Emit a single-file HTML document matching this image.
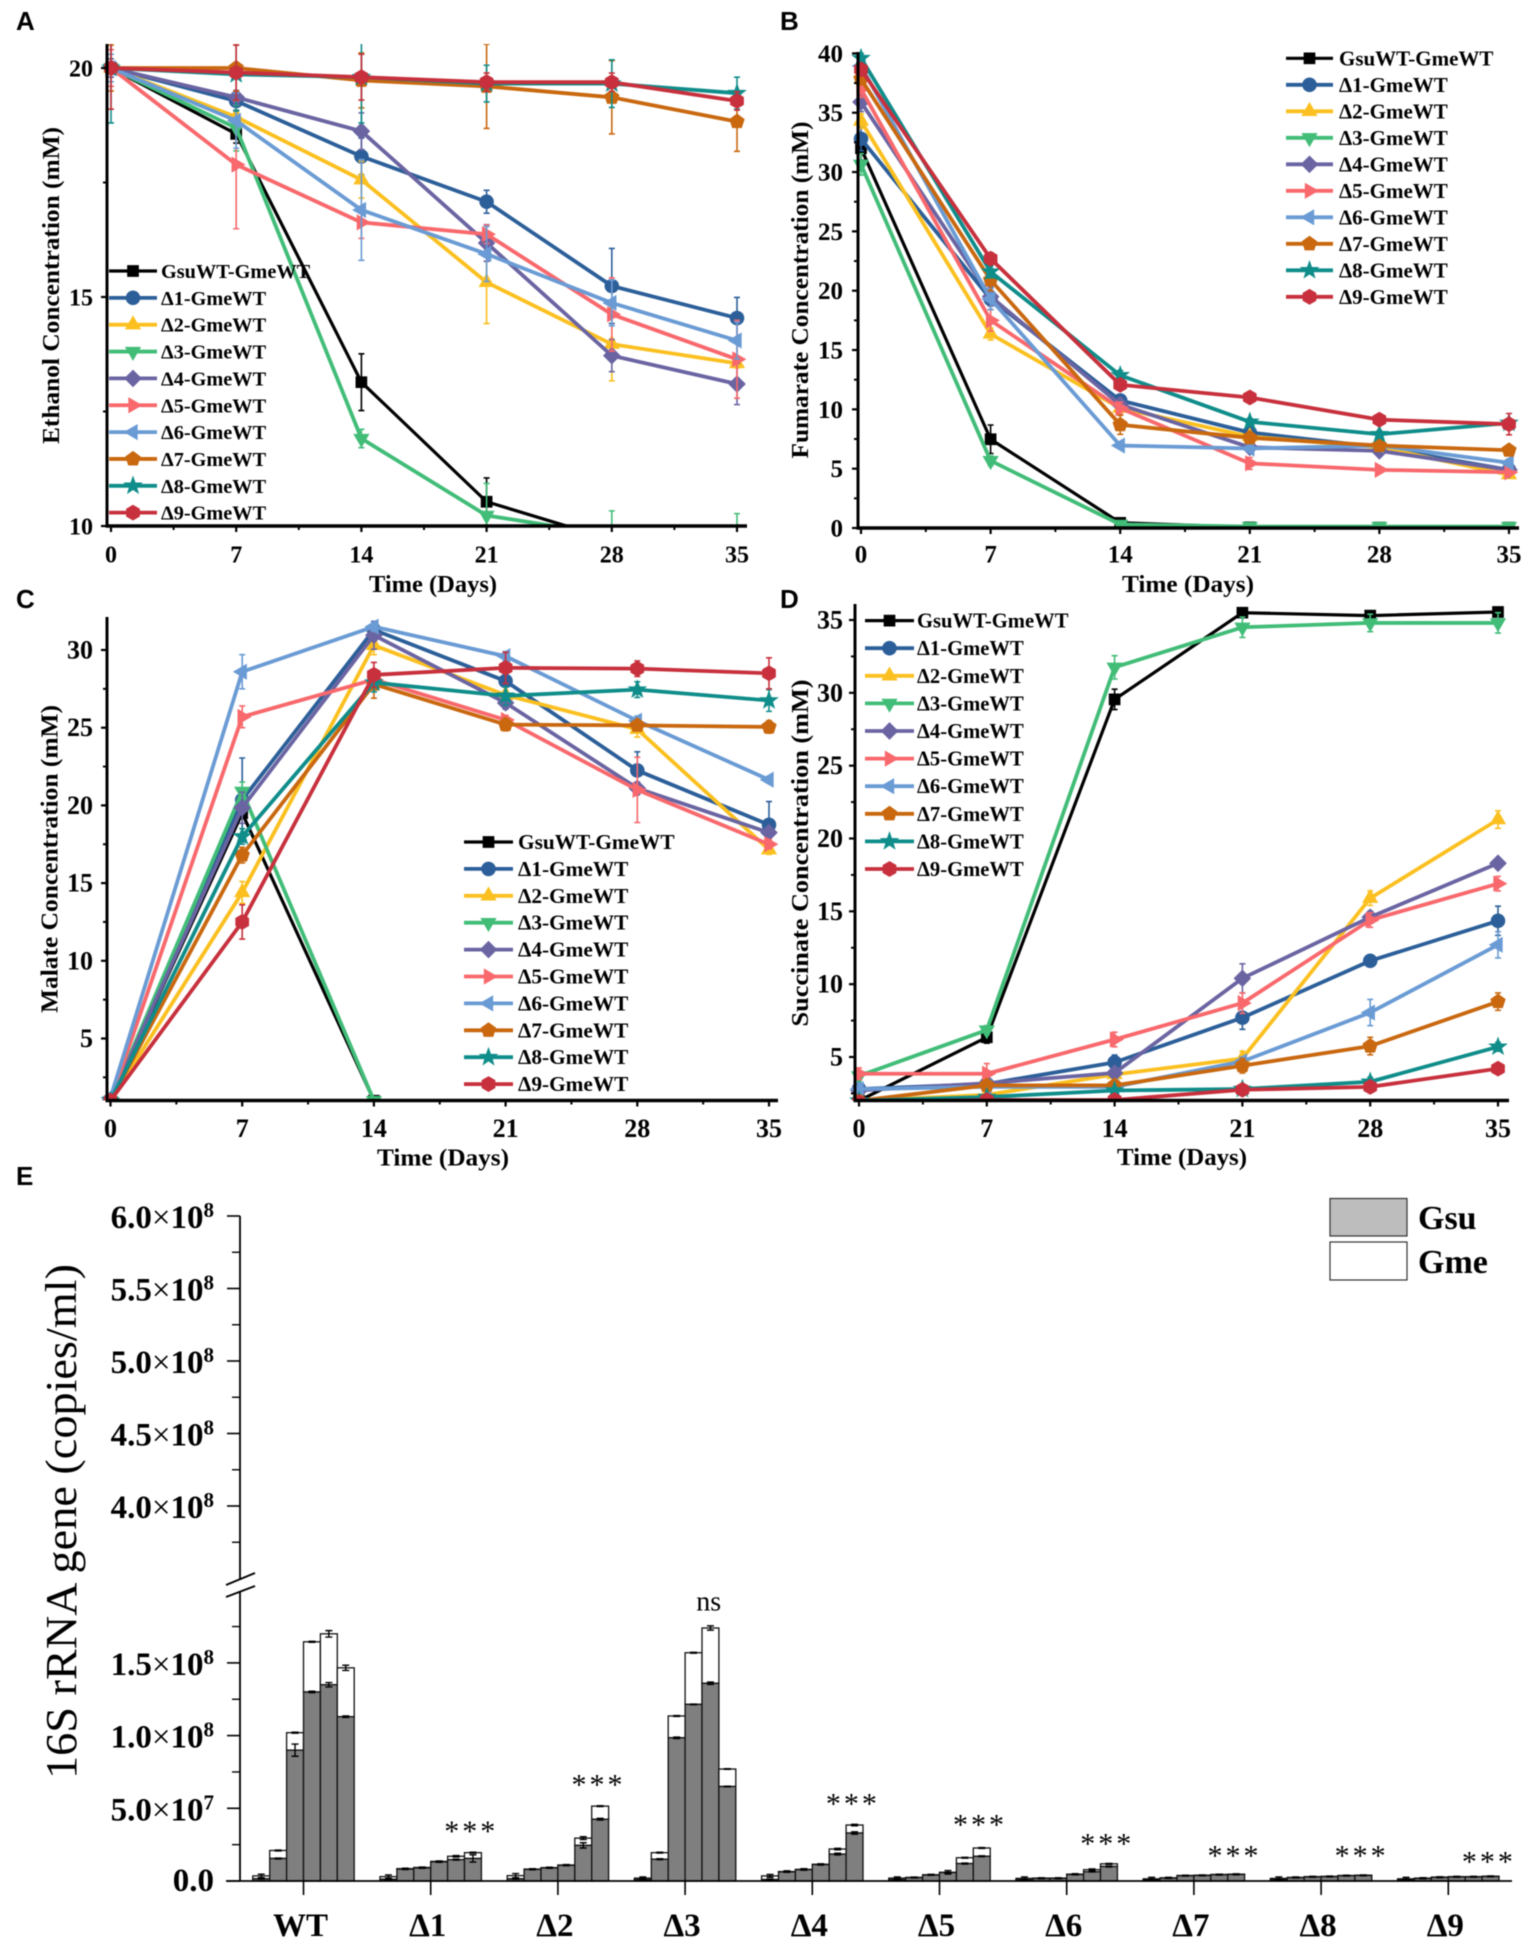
<!DOCTYPE html>
<html lang="en">
<head>
<meta charset="utf-8">
<title>Co-culture metabolite and 16S rRNA charts</title>
<style>
html,body{margin:0;padding:0;background:#fff;}
svg{display:block;filter:blur(0.5px);}
text{font-family:"Liberation Serif","Noto Serif CJK SC",serif;fill:#000;}
.bold{font-weight:bold;}
.letter{font-family:"Liberation Sans","Noto Sans CJK SC",sans-serif;font-weight:bold;font-size:26px;}
</style>
</head>
<body>
<svg id="figure" xmlns="http://www.w3.org/2000/svg" width="1535" height="1947" viewBox="0 0 1535 1947">
  <rect x="0" y="0" width="1535" height="1947" fill="#fff"/>

  <g id="panel-a">
    <text class="letter" x="16" y="30">A</text>
    <text class="bold" font-size="24" text-anchor="middle" textLength="317" lengthAdjust="spacingAndGlyphs" transform="translate(59,285.5) rotate(-90)">Ethanol Concentration (mM)</text>
    <text class="bold" font-size="24" text-anchor="middle" textLength="128" lengthAdjust="spacingAndGlyphs" x="433" y="592">Time (Days)</text>
  </g>
  <g id="panel-b">
    <text class="letter" x="780" y="30">B</text>
    <text class="bold" font-size="24" text-anchor="middle" textLength="337" lengthAdjust="spacingAndGlyphs" transform="translate(808,290) rotate(-90)">Fumarate Concentration (mM)</text>
    <text class="bold" font-size="24" text-anchor="middle" textLength="132" lengthAdjust="spacingAndGlyphs" x="1188" y="592">Time (Days)</text>
  </g>
  <g id="panel-c">
    <text class="letter" x="16" y="608">C</text>
    <text class="bold" font-size="24" text-anchor="middle" textLength="308" lengthAdjust="spacingAndGlyphs" transform="translate(57.5,859) rotate(-90)">Malate Concentration (mM)</text>
    <text class="bold" font-size="24" text-anchor="middle" textLength="132" lengthAdjust="spacingAndGlyphs" x="443" y="1165.5">Time (Days)</text>
  </g>
  <g id="panel-d">
    <text class="letter" x="780" y="608">D</text>
    <text class="bold" font-size="24" text-anchor="middle" textLength="347" lengthAdjust="spacingAndGlyphs" transform="translate(808,853) rotate(-90)">Succinate Concentration (mM)</text>
    <text class="bold" font-size="24" text-anchor="middle" textLength="130" lengthAdjust="spacingAndGlyphs" x="1182" y="1165">Time (Days)</text>
  </g>
  <g id="panel-e">
    <text class="letter" x="16" y="1185">E</text>
    <text font-size="44" text-anchor="middle" textLength="515" lengthAdjust="spacingAndGlyphs" transform="translate(76,1521.5) rotate(-90)">16S rRNA gene (copies/ml)</text>
    <rect x="1330" y="1198.5" width="77" height="37.5" fill="#bdbdbd" stroke="#333" stroke-width="1.2"/>
    <rect x="1330" y="1242" width="77" height="38" fill="#fff" stroke="#333" stroke-width="1.2"/>
    <text class="bold" font-size="34" x="1418" y="1229">Gsu</text>
    <text class="bold" font-size="34" x="1418" y="1273">Gme</text>
  </g>
</svg>

<script>
/* ---------- shared chart data ---------- */
const days = [0, 7, 14, 21, 28, 35];
const seriesNames = ['GsuWT-GmeWT', 'Δ1-GmeWT', 'Δ2-GmeWT', 'Δ3-GmeWT', 'Δ4-GmeWT', 'Δ5-GmeWT', 'Δ6-GmeWT', 'Δ7-GmeWT', 'Δ8-GmeWT', 'Δ9-GmeWT'];
const seriesColors = ['#000000', '#2c5f99', '#fbc020', '#41bd78', '#6a64a2', '#f8686c', '#6a9bd4', '#c9680f', '#0f8d8a', '#c7303c'];
const seriesShapes = ['square', 'circle', 'up', 'down', 'diamond', 'right', 'left', 'pentagon', 'star', 'hexagon'];

/* Panel A: ethanol (mM) */
const ethanolValues = [
  [20, 18.56, 13.14, 10.53, 9.7, 9.7],
  [20, 19.28, 18.07, 17.08, 15.24, 14.54],
  [20, 18.93, 17.56, 15.32, 13.97, 13.55],
  [20, 18.69, 11.91, 10.23, 9.8, 9.8],
  [20, 19.36, 18.62, 16.18, 13.72, 13.1],
  [20, 17.89, 16.63, 16.37, 14.62, 13.64],
  [20, 18.85, 16.9, 15.94, 14.87, 14.05],
  [20, 20, 19.73, 19.6, 19.36, 18.83],
  [20, 19.86, 19.8, 19.66, 19.66, 19.45],
  [20, 19.9, 19.8, 19.69, 19.69, 19.28]
];
const ethanolErrors = [
  [0.3, 0.2, 0.62, 0.52, 0, 0],
  [0.2, 0.2, 0.4, 0.25, 0.82, 0.45],
  [0.2, 0.1, 0.4, 0.9, 0.8, 0.1],
  [0.3, 0.5, 0.2, 0.7, 0.53, 0.47],
  [0.2, 0.15, 0.4, 0.4, 0.35, 0.45],
  [0.4, 1.4, 0.35, 0.2, 0.8, 0.85],
  [0.3, 0.6, 1.1, 0.6, 0.5, 0.4],
  [0.5, 0.5, 0.6, 0.92, 0.8, 0.65],
  [1.2, 0.8, 1.0, 0.4, 0.52, 0.35],
  [0.9, 0.6, 0.5, 0.2, 0.2, 0.2]
];
const ethanolTicks = [10, 15, 20];
const ethanolMinorTicks = [12.5, 17.5];

/* Panel B: fumarate (mM) */
const fumarateValues = [
  [32, 7.48, 0.44, 0.06, 0.03, 0.03],
  [32.8, 19.3, 10.75, 8.05, 6.8, 4.9],
  [34.3, 16.35, 10.1, 7.7, 6.8, 4.5],
  [30.65, 5.67, 0.3, 0.12, 0.12, 0.12],
  [35.9, 19.5, 10.4, 6.8, 6.5, 4.9],
  [37, 17.5, 10.1, 5.45, 4.9, 4.7],
  [38.95, 19.3, 6.95, 6.7, 6.95, 5.5],
  [37.85, 20.9, 8.7, 7.6, 6.95, 6.55],
  [39.6, 21.6, 12.87, 8.95, 7.9, 8.85],
  [38.65, 22.7, 12.07, 11, 9.13, 8.75]
];
const fumarateErrors = [
  [1, 1.2, 0.1, 0, 0, 0],
  [1, 0.9, 0.5, 0.2, 0.2, 0.2],
  [0.6, 0.5, 0.5, 0.2, 0.2, 0.3],
  [0.9, 0.4, 0.1, 0, 0, 0],
  [0.8, 0.8, 0.5, 0.3, 0.3, 0.3],
  [0.7, 0.9, 0.5, 0.5, 0.2, 0.3],
  [0.5, 0.9, 0.2, 0.2, 0.3, 0.3],
  [0.5, 0.9, 0.8, 0.3, 0.2, 0.2],
  [0.4, 0.5, 0.4, 0.3, 0.3, 0.2],
  [0.5, 0.5, 0.4, 0.3, 0.3, 0.9]
];
const fumarateTicks = [0, 5, 10, 15, 20, 25, 30, 35, 40];
const fumarateMinorTicks = [2.5, 7.5, 12.5, 17.5, 22.5, 27.5, 32.5, 37.5];

/* Panel C: malate (mM) */
const malateValues = [
  [1, 19.5, 1, 0.5, 0.5, 0.5],
  [1, 20.35, 31.3, 28, 22.25, 18.75],
  [1, 14.4, 30.3, 27.1, 24.9, 17.15],
  [1, 20.9, 1, 0.5, 0.5, 0.5],
  [1, 19.85, 30.95, 26.6, 21.1, 18.25],
  [1, 25.7, 28.1, 25.5, 21, 17.5],
  [1.2, 28.6, 31.5, 29.6, 25.45, 21.65],
  [1, 16.8, 27.8, 25.2, 25.15, 25.05],
  [1, 18, 27.9, 27.05, 27.45, 26.75],
  [1, 12.5, 28.4, 28.85, 28.8, 28.5]
];
const malateErrors = [
  [0.2, 0.2, 0, 0, 0, 0],
  [0.2, 2.7, 0.3, 0.3, 1.2, 1.5],
  [0.2, 0.7, 0.6, 0.3, 0.5, 0.3],
  [0.2, 0.6, 0, 0, 0, 0],
  [0.2, 1.0, 0.9, 0.4, 0.4, 0.3],
  [0.2, 0.7, 0.3, 0.3, 2.1, 0.3],
  [0.3, 1.1, 0.3, 0.3, 0.3, 0.2],
  [0.2, 0.5, 0.9, 0.4, 0.3, 0.4],
  [0.2, 0.5, 0.6, 0.6, 0.5, 0.7],
  [0.2, 1.1, 0.8, 1.0, 0.5, 1.0]
];
const malateTicks = [5, 10, 15, 20, 25, 30];
const malateMinorTicks = [2.5, 7.5, 12.5, 17.5, 22.5, 27.5];

/* Panel D: succinate (mM) */
const succinateValues = [
  [2, 6.35, 29.55, 35.5, 35.3, 35.55],
  [2.8, 3.15, 4.63, 7.7, 11.6, 14.35],
  [2, 2.4, 3.8, 4.9, 15.9, 21.3],
  [3.7, 6.85, 31.75, 34.5, 34.8, 34.8],
  [2.7, 3.2, 3.9, 10.4, 14.6, 18.3],
  [3.85, 3.85, 6.2, 8.7, 14.4, 16.9],
  [2.8, 2.95, 2.95, 4.7, 8.05, 12.7],
  [2, 3.05, 3.05, 4.4, 5.75, 8.8],
  [2, 2.25, 2.7, 2.8, 3.3, 5.7],
  [1.9, 2.05, 2.05, 2.75, 2.95, 4.2]
];
const succinateErrors = [
  [0.2, 0.4, 0.7, 0.3, 0.2, 0.3],
  [0.3, 0.3, 0.5, 0.8, 0.3, 1.0],
  [0.2, 0.2, 0.4, 0.5, 0.5, 0.6],
  [0.3, 0.3, 0.8, 0.7, 0.6, 0.7],
  [0.3, 0.3, 0.3, 1.0, 0.4, 0.3],
  [0.4, 0.7, 0.5, 0.7, 0.5, 0.5],
  [0.4, 0.3, 0.3, 0.3, 0.9, 0.9],
  [0.2, 0.3, 0.3, 0.5, 0.6, 0.6],
  [0.2, 0.2, 0.2, 0.2, 0.3, 0.3],
  [0.2, 0.2, 0.2, 0.2, 0.2, 0.2]
];
const succinateTicks = [5, 10, 15, 20, 25, 30, 35];
const succinateMinorTicks = [2.5, 7.5, 12.5, 17.5, 22.5, 27.5, 32.5];

/* Panel E: stacked 16S rRNA bars, all values in units of 1e7 copies/ml */
const strainLabels = ['WT', 'Δ1', 'Δ2', 'Δ3', 'Δ4', 'Δ5', 'Δ6', 'Δ7', 'Δ8', 'Δ9'];
const gsuCounts = [
  [0.15, 1.55, 9.0, 13.0, 13.5, 11.3],
  [0.12, 0.82, 0.9, 1.32, 1.47, 1.55],
  [0.15, 0.8, 0.9, 1.08, 2.45, 4.25],
  [0.1, 1.5, 9.85, 12.15, 13.6, 6.5],
  [0.1, 0.63, 0.78, 1.13, 1.85, 3.3],
  [0.1, 0.23, 0.41, 0.58, 1.2, 1.7],
  [0.08, 0.18, 0.18, 0.45, 0.64, 1.0],
  [0.08, 0.2, 0.36, 0.38, 0.43, 0.45],
  [0.1, 0.23, 0.28, 0.3, 0.36, 0.38],
  [0.08, 0.18, 0.25, 0.28, 0.28, 0.31]
];
const gmeCounts = [
  [0.2, 0.55, 1.2, 3.45, 3.5, 3.36],
  [0.18, 0.03, 0.03, 0.03, 0.23, 0.4],
  [0.22, 0.02, 0.02, 0.02, 0.5, 0.9],
  [0.1, 0.45, 1.5, 3.55, 3.8, 1.2],
  [0.25, 0.02, 0.02, 0.02, 0.35, 0.55],
  [0.1, 0.02, 0.02, 0.02, 0.4, 0.57],
  [0.1, 0.02, 0.02, 0.02, 0.14, 0.18],
  [0.07, 0.02, 0.02, 0.02, 0.02, 0.02],
  [0.08, 0.02, 0.02, 0.02, 0.02, 0.02],
  [0.07, 0.02, 0.02, 0.02, 0.02, 0.02]
];
const gsuErrors = [
  [0.02, 0.03, 0.42, 0.05, 0.15, 0.05],
  [0.02, 0.03, 0.03, 0.03, 0.03, 0.25],
  [0.02, 0.03, 0.03, 0.03, 0.18, 0.06],
  [0.02, 0.03, 0.05, 0.02, 0.08, 0.02],
  [0.02, 0.03, 0.03, 0.03, 0.06, 0.08],
  [0.02, 0.02, 0.02, 0.02, 0.03, 0.03],
  [0.02, 0.02, 0.02, 0.02, 0.02, 0.03],
  [0.02, 0.02, 0.02, 0.02, 0.02, 0.02],
  [0.02, 0.02, 0.02, 0.02, 0.02, 0.02],
  [0.02, 0.02, 0.02, 0.02, 0.02, 0.02]
];
const totalErrors = [
  [0.12, 0.03, 0.03, 0.03, 0.22, 0.18],
  [0.12, 0.03, 0.03, 0.03, 0.05, 0.03],
  [0.14, 0.03, 0.03, 0.03, 0.1, 0.03],
  [0.08, 0.03, 0.03, 0.03, 0.15, 0.02],
  [0.1, 0.05, 0.05, 0.03, 0.05, 0.05],
  [0.08, 0.02, 0.03, 0.12, 0.03, 0.03],
  [0.1, 0.02, 0.02, 0.03, 0.05, 0.03],
  [0.1, 0.03, 0.02, 0.02, 0.02, 0.02],
  [0.1, 0.03, 0.02, 0.02, 0.02, 0.02],
  [0.1, 0.03, 0.02, 0.02, 0.02, 0.02]
];
const annotationTexts = ['', '***', '***', 'ns', '***', '***', '***', '***', '***', '***'];
const annotationHeights = [0, 2.75, 5.95, 18.6, 4.65, 3.2, 1.9, 1.05, 1.05, 0.65];
const upperTickMantissas = ['4.0', '4.5', '5.0', '5.5', '6.0'];
const upperTickValues = [40, 45, 50, 55, 60];
const upperMinorTicks = [37.5, 42.5, 47.5, 52.5, 57.5];
const lowerTickMantissas = ['5.0', '1.0', '1.5'];
const lowerTickExponents = ['7', '8', '8'];
const lowerTickValues = [5, 10, 15];
const lowerMinorTicks = [2.5, 7.5, 12.5, 17.5];

/* ---------- drawing helpers ---------- */
const SVGNS = 'http://www.w3.org/2000/svg';
function make(tag, attrs, parent) {
  const node = document.createElementNS(SVGNS, tag);
  for (const k in attrs) node.setAttribute(k, attrs[k]);
  parent.appendChild(node);
  return node;
}
function markerPoints(shape, cx, cy, r) {
  const poly = (n, rot, rad) => {
    const pts = [];
    for (let i = 0; i < n; i++) {
      const a = rot + i * 2 * Math.PI / n;
      pts.push((cx + rad * Math.cos(a)).toFixed(2) + ',' + (cy + rad * Math.sin(a)).toFixed(2));
    }
    return pts.join(' ');
  };
  if (shape === 'square') return poly(4, Math.PI / 4, r * 1.12);
  if (shape === 'circle') return poly(24, 0, r);
  if (shape === 'up') return poly(3, -Math.PI / 2, r * 1.25);
  if (shape === 'down') return poly(3, Math.PI / 2, r * 1.25);
  if (shape === 'right') return poly(3, 0, r * 1.25);
  if (shape === 'left') return poly(3, Math.PI, r * 1.25);
  if (shape === 'diamond') return poly(4, 0, r * 1.2);
  if (shape === 'pentagon') return poly(5, -Math.PI / 2, r * 1.1);
  if (shape === 'hexagon') return poly(6, -Math.PI / 2, r * 1.08);
  const pts = [];
  for (let i = 0; i < 10; i++) {
    const a = -Math.PI / 2 + i * Math.PI / 5;
    const rad = i % 2 === 0 ? r * 1.35 : r * 0.55;
    pts.push((cx + rad * Math.cos(a)).toFixed(2) + ',' + (cy + rad * Math.sin(a)).toFixed(2));
  }
  return pts.join(' ');
}

function drawLinePanel(layout, values, errors, majorTicks, minorTicks, clipId) {
  const g = document.getElementById(layout.groupId);
  const xScale = d => layout.xAtZero + (d / 35) * (layout.xAtEnd - layout.xAtZero);
  const yScale = v => layout.yRefA + (v - layout.vRefA) / (layout.vRefB - layout.vRefA) * (layout.yRefB - layout.yRefA);
  const vMin = (layout.yBottom - layout.yRefA) / (layout.yRefB - layout.yRefA) * (layout.vRefB - layout.vRefA) + layout.vRefA;

  const clip = make('clipPath', { id: clipId }, g);
  make('rect', { x: layout.axisX - 20, y: layout.yTop, width: layout.xEnd - layout.axisX + 40, height: layout.yBottom - layout.yTop }, clip);
  const markerClip = make('clipPath', { id: clipId + '-markers' }, g);
  make('rect', { x: layout.axisX - 30, y: layout.yTop - 30, width: layout.xEnd - layout.axisX + 60, height: layout.yBottom - layout.yTop + 30 }, markerClip);

  values.forEach((series, s) => {
    const color = seriesColors[s];
    const seriesGroup = make('g', {}, g);
    
    

    series.forEach((v, i) => {
      const err = errors[s][i];
      if (err <= 0) return;
      const x = xScale(days[i]);
      const top = yScale(v + err);
      const bot = yScale(v - err);
      const bar = make('path', {
        d: 'M' + x + ' ' + top + 'V' + bot + 'M' + (x - 3) + ' ' + top + 'H' + (x + 3) + 'M' + (x - 3) + ' ' + bot + 'H' + (x + 3),
        stroke: color, 'stroke-width': 1.6, fill: 'none', 'clip-path': 'url(#' + clipId + ')'
      }, seriesGroup);
      
      
    });

    const line = make('polyline', {
      points: series.map((v, i) => xScale(days[i]) + ',' + yScale(v)).join(' '),
      fill: 'none', stroke: color, 'stroke-width': s === 0 ? 3.2 : 3.8,
      'stroke-linejoin': 'round', 'clip-path': 'url(#' + clipId + ')'
    }, seriesGroup);
    
    

    series.forEach((v, i) => {
      if (v < vMin - 0.15) return;
      const marker = make('polygon', {
        points: markerPoints(seriesShapes[s], xScale(days[i]), yScale(v), 7),
        fill: color, stroke: color, 'stroke-width': 0.6, 'clip-path': 'url(#' + clipId + '-markers)'
      }, seriesGroup);
      
      
    });
  });

  const xAxis = make('line', { x1: layout.axisX - 1.5, x2: layout.xEnd, y1: layout.yBottom, y2: layout.yBottom, stroke: '#000', 'stroke-width': 3.6 }, g);
  
  
  const yAxis = make('line', { x1: layout.axisX, x2: layout.axisX, y1: layout.yTop, y2: layout.yBottom, stroke: '#000', 'stroke-width': 3 }, g);
  
  

  days.forEach((d, i) => {
    const x = xScale(d);
    const tick = make('line', { x1: x, x2: x, y1: layout.yBottom, y2: layout.yBottom + 6, stroke: '#000', 'stroke-width': 2.2 }, g);
    
    
    const label = make('text', { x: x, y: layout.xLabelBaseline, 'text-anchor': 'middle', 'font-size': layout.fontSize, class: 'bold' }, g);
    label.textContent = String(d);
    
    
    if (i < days.length - 1) {
      const mx = xScale(d + 3.5);
      const minor = make('line', { x1: mx, x2: mx, y1: layout.yBottom, y2: layout.yBottom + 4, stroke: '#000', 'stroke-width': 2 }, g);
      
      
    }
  });

  majorTicks.forEach(v => {
    const y = yScale(v);
    const tick = make('line', { x1: layout.axisX - 6, x2: layout.axisX, y1: y, y2: y, stroke: '#000', 'stroke-width': 2.2 }, g);
    
    
    const label = make('text', { x: layout.yLabelRight, y: y + 8.5, 'text-anchor': 'end', 'font-size': layout.fontSize, class: 'bold' }, g);
    label.textContent = String(v);
    
    
  });
  minorTicks.forEach(v => {
    if (v < vMin) return;
    const y = yScale(v);
    const tick = make('line', { x1: layout.axisX - 4, x2: layout.axisX, y1: y, y2: y, stroke: '#000', 'stroke-width': 2 }, g);
    
    
  });

  const legend = make('g', {}, g);
  
  
  seriesNames.forEach((name, s) => {
    const y = layout.legendY + s * layout.legendStep;
    const sample = make('line', { x1: layout.legendX0, x2: layout.legendX1, y1: y, y2: y, stroke: seriesColors[s], 'stroke-width': s === 0 ? 3.2 : 3.8 }, legend);
    
    
    const symbol = make('polygon', {
      points: markerPoints(seriesShapes[s], (layout.legendX0 + layout.legendX1) / 2, y, 7),
      fill: seriesColors[s], stroke: seriesColors[s], 'stroke-width': 0.6
    }, legend);
    
    
    const text = make('text', { x: layout.legendTextX, y: y + 7, 'font-size': layout.legendFont, class: 'bold' }, legend);
    text.textContent = name;
    
    
  });
}

/* ---------- line panels ---------- */
drawLinePanel({
  groupId: 'panel-a', axisX: 107, xAtZero: 111, xAtEnd: 737, xEnd: 747, yTop: 44, yBottom: 526,
  vRefA: 20, yRefA: 68, vRefB: 10, yRefB: 526, fontSize: 24, xLabelBaseline: 562.5, yLabelRight: 93,
  legendX0: 109, legendX1: 157, legendTextX: 161, legendY: 271, legendStep: 26.85, legendFont: 20.3
}, ethanolValues, ethanolErrors, ethanolTicks, ethanolMinorTicks, 'clip-a');

drawLinePanel({
  groupId: 'panel-b', axisX: 858, xAtZero: 861, xAtEnd: 1509, xEnd: 1519, yTop: 52, yBottom: 528,
  vRefA: 40, yRefA: 53.4, vRefB: 0, yRefB: 528, fontSize: 25, xLabelBaseline: 562.5, yLabelRight: 843,
  legendX0: 1286, legendX1: 1333, legendTextX: 1339, legendY: 58.3, legendStep: 26.5, legendFont: 21
}, fumarateValues, fumarateErrors, fumarateTicks, fumarateMinorTicks, 'clip-b');

drawLinePanel({
  groupId: 'panel-c', axisX: 107, xAtZero: 110.5, xAtEnd: 769, xEnd: 778, yTop: 617, yBottom: 1100.5,
  vRefA: 30, yRefA: 650, vRefB: 5, yRefB: 1038.5, fontSize: 26, xLabelBaseline: 1137, yLabelRight: 93,
  legendX0: 464, legendX1: 513, legendTextX: 518, legendY: 842, legendStep: 26.9, legendFont: 21.3
}, malateValues, malateErrors, malateTicks, malateMinorTicks, 'clip-c');

drawLinePanel({
  groupId: 'panel-d', axisX: 855, xAtZero: 859, xAtEnd: 1498, xEnd: 1509, yTop: 604, yBottom: 1100.5,
  vRefA: 35, yRefA: 620, vRefB: 5, yRefB: 1057, fontSize: 26, xLabelBaseline: 1137, yLabelRight: 843,
  legendX0: 865, legendX1: 914, legendTextX: 917, legendY: 620.6, legendStep: 27.6, legendFont: 20.6
}, succinateValues, succinateErrors, succinateTicks, succinateMinorTicks, 'clip-d');

/* ---------- bar panel ---------- */
(function drawBars() {
  const g = document.getElementById('panel-e');
  const axisX = 240;
  const baseY = 1881;
  const groupStart = 303.5;
  const groupStep = 127.2;
  const barW = 16.9;
  const yLower = v => baseY - v * 14.54;
  const yUpper = v => 1216 + (60 - v) * 14.5;
  const groupCenter = i => groupStart + i * groupStep;

  strainLabels.forEach((label, i) => {
    const cx = groupCenter(i);
    gsuCounts[i].forEach((gsu, b) => {
      const x = cx - 3 * barW + b * barW;
      const gme = gmeCounts[i][b];
      const total = gsu + gme;
      const topBar = make('rect', { x: x, y: yLower(total), width: barW, height: yLower(gsu) - yLower(total), fill: '#fff', stroke: '#111', 'stroke-width': 1.3 }, g);
      
      
      const lowBar = make('rect', { x: x, y: yLower(gsu), width: barW, height: baseY - yLower(gsu), fill: '#7f7f7f', stroke: '#111', 'stroke-width': 1.3 }, g);
      
      

      const mid = x + barW / 2;
      [[gsu, gsuErrors[i][b]], [total, totalErrors[i][b]]].forEach(pair => {
        const t = yLower(pair[0] + pair[1]);
        const u = yLower(pair[0] - pair[1]);
        const err = make('path', {
          d: 'M' + mid + ' ' + t + 'V' + u + 'M' + (mid - 3.5) + ' ' + t + 'H' + (mid + 3.5) + 'M' + (mid - 3.5) + ' ' + u + 'H' + (mid + 3.5),
          stroke: '#000', 'stroke-width': 1.4, fill: 'none'
        }, g);
        
        
      });
    });

    const tick = make('line', { x1: cx, x2: cx, y1: baseY, y2: baseY + 14, stroke: '#000', 'stroke-width': 1.6 }, g);
    
    
    const cat = make('text', { x: cx - 3, y: 1936, 'text-anchor': 'middle', 'font-size': 33, class: 'bold' }, g);
    cat.textContent = label;
    
    

    if (annotationTexts[i]) {
      const isNs = annotationTexts[i] === 'ns';
      const note = make('text', {
        x: cx + barW * (isNs ? 1.4 : 2.4), y: yLower(annotationHeights[i]),
        'text-anchor': 'middle', 'font-size': isNs ? 28 : 30, 'letter-spacing': isNs ? 0 : 3
      }, g);
      note.textContent = annotationTexts[i];
      
      
    }
  });

  const xAxis = make('line', { x1: 226, x2: 1512, y1: baseY, y2: baseY, stroke: '#000', 'stroke-width': 1.8 }, g);
  
  
  const upperAxis = make('line', { x1: axisX, x2: axisX, y1: 1216, y2: 1580, stroke: '#000', 'stroke-width': 1.8 }, g);
  
  
  const lowerAxis = make('line', { x1: axisX, x2: axisX, y1: 1592, y2: baseY, stroke: '#000', 'stroke-width': 1.8 }, g);
  
  
  const breakMark = make('path', { d: 'M226 1585L255 1573M226 1597L255 1586', stroke: '#000', 'stroke-width': 2, fill: 'none' }, g);
  
  

  function tickLabel(y, mantissa, exponent) {
    const t = make('text', { x: 214, y: y + 12, 'text-anchor': 'end', 'font-size': 33, class: 'bold' }, g);
    
    
    const a = make('tspan', {}, t);
    a.textContent = mantissa;
    const b = make('tspan', { 'font-weight': 'normal' }, t);
    b.textContent = '×';
    const c = make('tspan', {}, t);
    c.textContent = '10';
    const d = make('tspan', { dy: -11, 'font-size': 21 }, t);
    d.textContent = exponent;
  }
  function majorTick(y) {
    const tick = make('line', { x1: 227, x2: axisX, y1: y, y2: y, stroke: '#000', 'stroke-width': 1.6 }, g);
    
    
  }
  function minorTick(y) {
    const tick = make('line', { x1: 232, x2: axisX, y1: y, y2: y, stroke: '#000', 'stroke-width': 1.4 }, g);
    
    
  }
  upperTickValues.forEach((v, i) => {
    majorTick(yUpper(v));
    tickLabel(yUpper(v), upperTickMantissas[i], '8');
  });
  upperMinorTicks.forEach(v => minorTick(yUpper(v)));
  lowerTickValues.forEach((v, i) => {
    majorTick(yLower(v));
    tickLabel(yLower(v), lowerTickMantissas[i], lowerTickExponents[i]);
  });
  lowerMinorTicks.forEach(v => minorTick(yLower(v)));
  majorTick(baseY);
  const zero = make('text', { x: 214, y: 1891, 'text-anchor': 'end', 'font-size': 33, class: 'bold' }, g);
  zero.textContent = '0.0';
  
  
})();
</script>
</body>
</html>
